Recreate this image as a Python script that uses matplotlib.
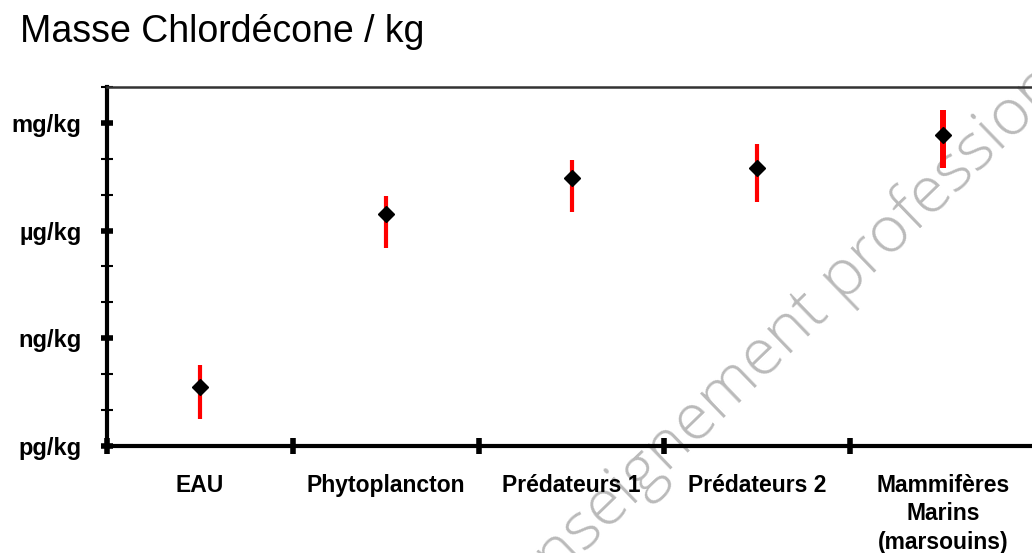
import numpy as np
import matplotlib.pyplot as plt
from matplotlib.ticker import FixedLocator, NullFormatter

# Categories and values (kg/kg)
categories = ['EAU', 'Phytoplancton', 'Prédateurs 1', 'Prédateurs 2',
              'Mammifères\nMarins\n(marsouins)']
median = [4.4e-11, 2.9e-6, 2.95e-5, 5.5e-5, 4.6e-4]
low = [5.6e-12, 3.3e-7, 3.3e-6, 6.3e-6, 5.5e-5]
high = [1.8e-10, 9.1e-6, 9.3e-5, 2.6e-4, 2.3e-3]

y_ticks = [1e-12, 1e-9, 1e-6, 1e-3]
y_labels = ['pg/kg', 'ng/kg', 'µg/kg', 'mg/kg']

bar_widths = [3, 3, 3, 3, 4.3]

fig = plt.figure(figsize=(10.32, 5.53), dpi=100)
ax = fig.add_axes([0.1037, 0.1935, 0.9003, 0.6492])
ax.patch.set_alpha(0)

x = np.arange(len(categories))

# red error bars and black markers
ax.vlines(x, low, high, colors='#ff0000', linewidths=bar_widths, zorder=2)
ax.plot(x, median, linestyle='none', marker='D', markersize=8,
        color='black', zorder=3)

ax.set_yscale('log')
ax.set_ylim(1e-12, 1e-2)
ax.set_xlim(-0.5, len(categories) - 0.5)

# y axis ticks
ax.yaxis.set_major_locator(FixedLocator(y_ticks))
ax.set_yticklabels(y_labels)
ax.yaxis.set_minor_locator(FixedLocator([10.0 ** e for e in range(-12, -1)]))
ax.yaxis.set_minor_formatter(NullFormatter())
ax.tick_params(axis='y', which='major', direction='inout', length=9,
               width=4, pad=14)
ax.tick_params(axis='y', which='minor', direction='inout', length=9,
               width=1.5)

# x axis: ticks at category boundaries, labels at centers
ax.set_xticks(np.arange(len(categories) + 1) - 0.5)
ax.set_xticklabels([])
ax.set_xticks(x, minor=True)
ax.set_xticklabels(categories, minor=True, linespacing=1.3)
ax.tick_params(axis='x', which='major', direction='inout', length=12,
               width=4)
ax.tick_params(axis='x', which='minor', length=0, pad=20)

for lab in ax.get_xticklabels(minor=True):
    lab.set_fontfamily(['Liberation Sans', 'DejaVu Sans'])
    lab.set_fontweight('bold')
    lab.set_fontsize(16.5)
    lab.set_verticalalignment('top')
for lab in ax.get_yticklabels():
    lab.set_fontfamily(['Liberation Sans', 'DejaVu Sans'])
    lab.set_fontweight('bold')
    lab.set_fontsize(17)

ax.spines['left'].set_linewidth(3)
ax.spines['bottom'].set_linewidth(3)
ax.spines['top'].set_linewidth(1.8)
ax.spines['top'].set_color('#333333')
ax.spines['right'].set_visible(False)

fig.text(0.019, 0.942, 'Masse Chlordécone / kg', fontsize=27,
         family=['Liberation Sans', 'DejaVu Sans'], va='center', ha='left')

# watermark
fig.text(0.5145, -0.094, 'enseignement professionnel', fontsize=47,
         family=['Open Sans', 'DejaVu Sans'], fontweight='light',
         color='#bababa', rotation=44, rotation_mode='anchor',
         ha='left', va='baseline', zorder=-1)

fig.savefig('out.png', dpi=100)
